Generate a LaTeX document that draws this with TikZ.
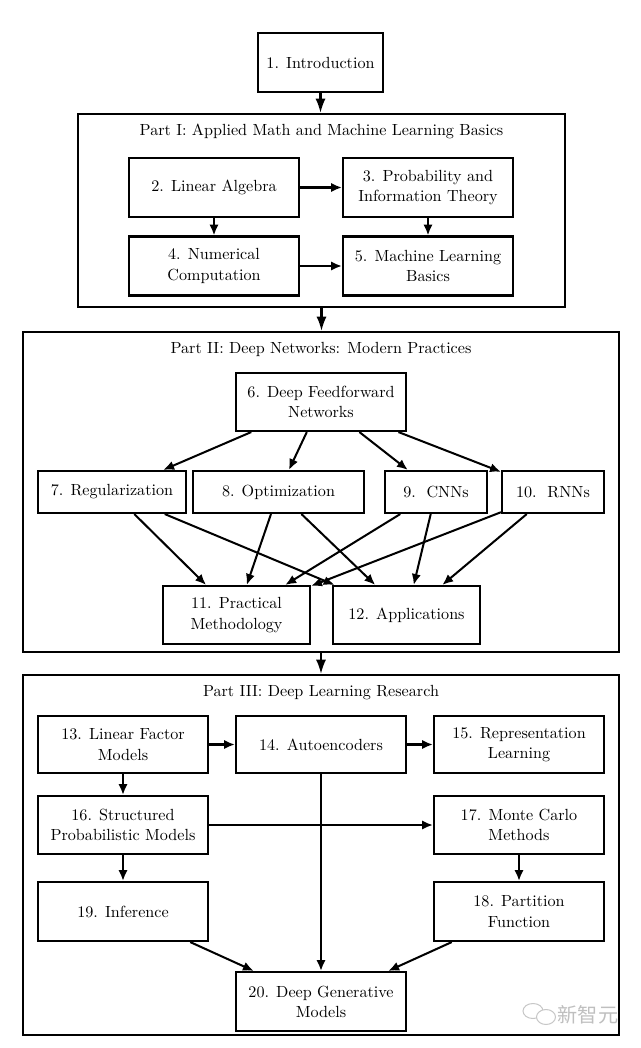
\documentclass[tikz,border=0pt]{standalone}
\usepackage{fontspec}
\newfontfamily\cjk{Noto Sans CJK SC}
\usetikzlibrary{arrows.meta}
\tikzset{
  box/.style={draw, line width=1.25pt, align=center, inner sep=0pt, font=\fontsize{9.6}{12}\selectfont},
  partbox/.style={draw, line width=1.25pt, inner sep=0pt},
  parttitle/.style={inner sep=0pt, font=\fontsize{9.6}{12}\selectfont},
  arr/.style={line width=1.2pt, -{Latex[length=6.5pt,width=5.5pt]}},
  bigarr/.style={line width=1.2pt, -{Latex[length=8.5pt,width=6pt]}},
  wm/.style={draw=black!22, line width=0.6pt}
}
\newcommand{\bx}[6]{\node[box, minimum width={#4*0.595pt}, minimum height={#5*0.595pt}] (#1) at (#2,#3) {#6};}
\begin{document}
\begin{tikzpicture}[x=0.595pt, y=-0.595pt]
\useasboundingbox[fill=white] (0,0) rectangle (640,1048);
% Introduction
\bx{intro}{320.5}{62.5}{125}{59}{1. Introduction}
% Part I
\node[partbox, minimum width={487*0.595pt}, minimum height={193*0.595pt}] (partI) at (321.5,210.5) {};
\node[parttitle] (tI) at (321.5,131) {Part I: Applied Math and Machine Learning Basics};
\bx{b2}{214}{187.5}{170}{59}{2. Linear Algebra}
\bx{b3}{428}{187.5}{170}{59}{3. Probability and\\Information Theory}
\bx{b4}{214}{266}{170}{59}{4. Numerical\\Computation}
\bx{b5}{428}{266}{170}{59}{5. Machine Learning\\Basics}
% Part II
\node[partbox, minimum width={596*0.595pt}, minimum height={320*0.595pt}] (partII) at (321,492) {};
\node[parttitle] (tII) at (321,349) {Part II: Deep Networks: Modern Practices};
\bx{b6}{321}{402}{170}{58}{6. Deep Feedforward\\Networks}
\bx{b7}{112}{492}{148}{42}{7. Regularization}
\bx{b8}{278.5}{492}{171}{42}{8. Optimization}
\bx{b9}{436}{492}{102}{42}{9.\ \ CNNs}
\bx{b10}{553}{492}{102}{42}{10.\ \ RNNs}
\bx{b11}{236.5}{615}{147}{58}{11. Practical\\Methodology}
\bx{b12}{406.5}{615}{147}{58}{12. Applications}
% Part III
\node[partbox, minimum width={596*0.595pt}, minimum height={360*0.595pt}] (partIII) at (321,855) {};
\node[parttitle] (tIII) at (321,693) {Part III: Deep Learning Research};
\bx{b13}{123}{744.5}{170}{57}{13. Linear Factor\\Models}
\bx{b14}{321}{744.5}{170}{57}{14. Autoencoders}
\bx{b15}{519}{744.5}{170}{57}{15. Representation\\Learning}
\bx{b16}{123}{825}{170}{58}{16. Structured\\Probabilistic Models}
\bx{b17}{519}{825}{170}{58}{17. Monte Carlo\\Methods}
\bx{b19}{123}{911.5}{170}{59}{19. Inference}
\bx{b18}{519}{911.5}{170}{59}{18. Partition\\Function}
\bx{b20}{321}{1001.5}{170}{59}{20. Deep Generative\\Models}
% connectors between parts
\draw[bigarr] (intro.south) -- (intro.south |- partI.north);
\draw[bigarr] (partI.south) -- (partI.south |- partII.north);
\draw[bigarr] (partII.south) -- (partII.south |- partIII.north);
% Part I
\draw[arr] (b2) -- (b3);
\draw[arr] (b2) -- (b4);
\draw[arr] (b3) -- (b5);
\draw[arr] (b4) -- (b5);
% Part II
\draw[arr] (b6) -- (b7);
\draw[arr] (b6) -- (b8);
\draw[arr] (b6) -- (b9);
\draw[arr] (b6) -- (b10);
\draw[arr] (b7) -- (b11);
\draw[arr] (b7) -- (b12);
\draw[arr] (b8) -- (b11);
\draw[arr] (b8) -- (b12);
\draw[arr] (b9) -- (b11);
\draw[arr] (b9) -- (b12);
\draw[arr] (b10) -- (b11);
\draw[arr] (b10) -- (b12);
% Part III
\draw[arr] (b13) -- (b14);
\draw[arr] (b14) -- (b15);
\draw[arr] (b13) -- (b16);
\draw[arr] (b16) -- (b17);
\draw[arr] (b14) -- (b20);
\draw[arr] (b16) -- (b19);
\draw[arr] (b17) -- (b18);
\draw[arr] (b19) -- (b20);
\draw[arr] (b18) -- (b20);
% watermark
\draw[wm] (533,1011) ellipse [x radius=10, y radius=7.5];
\draw[wm, fill=white] (546,1017) ellipse [x radius=9.5, y radius=7.5];
\node[inner sep=0pt, text=black!25, font=\cjk\fontsize{12}{12}\selectfont] (wmtext) at (588,1015) {新智元};
\end{tikzpicture}
\end{document}
